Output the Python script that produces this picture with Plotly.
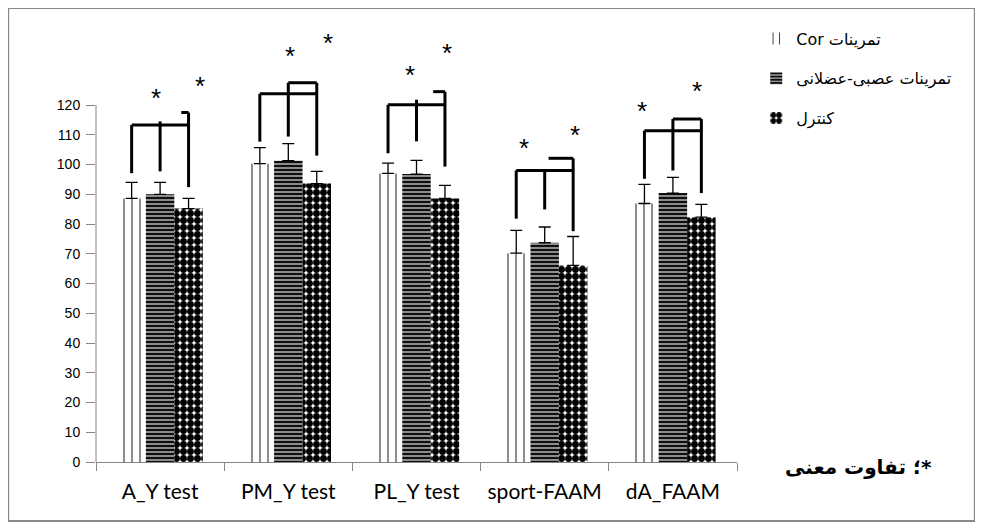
import plotly.graph_objects as go

categories = ["A_Y test", "PM_Y test", "PL_Y test", "sport-FAAM", "dA_FAAM"]
series_names = ["\u202Bتمرینات Cor\u202C", "تمرینات عصبی-عضلانی", "کنترل"]

cor_mean = [88.6, 100.3, 97.0, 70.2, 86.9]
cor_sd = [5.4, 5.4, 3.5, 7.7, 6.4]
neuro_mean = [90.0, 101.3, 96.8, 73.7, 90.4]
neuro_sd = [4.0, 5.7, 4.6, 5.3, 5.3]
ctrl_mean = [85.2, 93.6, 88.6, 66.1, 82.3]
ctrl_sd = [3.4, 4.1, 4.4, 9.7, 4.3]

# significance brackets (values in y units)
br_low = [113.3, 123.8, 120.1, 98.0, 111.4]
br_high = [117.5, 127.5, 124.5, 102.1, 115.3]
br_left_end = [97.1, 107.7, 103.8, 81.8, 95.2]
br_mid_top = [114.5, 127.5, 121.8, 98.0, 115.3]
br_mid_end = [97.7, 109.4, 107.8, 84.9, 98.0]
br_right_end = [92.4, 103.0, 99.3, 77.6, 90.4]
br_stub_from = [0.165, 0.0, 0.13, 0.03, 0.0]

star1_y = [123.4, 137.5, 131.1, 106.6, 119.0]
star1_dx = [-0.03, 0.01, -0.05, -0.16, -0.24]
star2_y = [127.4, 141.8, 138.5, 110.9, 125.7]
star2_dx = [0.31, 0.31, 0.24, 0.24, 0.19]

y_ticks = list(range(0, 121, 10))
note_text = "<b>\u202B*؛ تفاوت معنی\u202C</b>"

BW = 0.222  # bar offset in category units

fig = go.Figure()
styles = [
    dict(color="white", pattern=dict(shape="|", size=8, solidity=0.14, fgcolor="black", fgopacity=0.8, fillmode="overlay")),
    dict(color="#8c8c8c", pattern=dict(shape="-", size=4, solidity=0.45, fgcolor="black", fgopacity=1, fillmode="overlay")),
    dict(color="white", pattern=dict(shape=".", size=7, solidity=0.75, fgcolor="black", fgopacity=1, fillmode="overlay")),
]
for i, (name, means, sds) in enumerate(zip(series_names, [cor_mean, neuro_mean, ctrl_mean], [cor_sd, neuro_sd, ctrl_sd])):
    fig.add_trace(go.Bar(
        x=categories, y=means, name=name, legendgroup=str(i),
        marker=dict(line=dict(width=0), **styles[i]),
        error_y=dict(type="data", array=sds, arrayminus=[0] * len(sds), symmetric=False,
                     color="black", thickness=1.3, width=6),
    ))

shapes = []
line = dict(color="black", width=3)
for c in range(len(categories)):
    xl, xm, xr = c - BW, c, c + BW
    shapes.append(dict(type="line", xref="x", yref="y", x0=xl, x1=xl, y0=br_left_end[c], y1=br_low[c], line=line))
    shapes.append(dict(type="line", xref="x", yref="y", x0=xl, x1=xr, y0=br_low[c], y1=br_low[c], line=line))
    shapes.append(dict(type="line", xref="x", yref="y", x0=xm, x1=xm, y0=br_mid_end[c], y1=br_mid_top[c], line=line))
    shapes.append(dict(type="line", xref="x", yref="y", x0=xr, x1=xr, y0=br_right_end[c], y1=br_high[c], line=line))
    shapes.append(dict(type="line", xref="x", yref="y", x0=c + br_stub_from[c], x1=xr, y0=br_high[c], y1=br_high[c], line=line))

# y axis line up to 120 only
shapes.append(dict(type="line", xref="paper", yref="y", x0=0, x1=0, y0=0, y1=120, line=dict(color="#868686", width=1)))
# outer border
shapes.append(dict(type="rect", xref="paper", yref="paper", x0=-0.137, x1=1.371, y0=-0.136, y1=1.046,
                   line=dict(color="#888888", width=2), fillcolor="rgba(0,0,0,0)", layer="below"))

annotations = []
for c in range(len(categories)):
    for dx, yy in ((star1_dx[c], star1_y[c]), (star2_dx[c], star2_y[c])):
        annotations.append(dict(x=c + dx, y=yy, xref="x", yref="y", text="*", showarrow=False,
                                font=dict(family="Liberation Sans", size=26, color="black"),
                                yanchor="middle", yshift=-3))
annotations.append(dict(x=1.189, y=-0.012, xref="paper", yref="paper", text=note_text, showarrow=False,
                        font=dict(family="DejaVu Sans", size=20, color="black"), xanchor="center", yanchor="middle"))

fig.update_layout(
    width=975, height=522,
    margin=dict(l=88, r=246, t=20, b=68),
    paper_bgcolor="white", plot_bgcolor="white",
    barmode="group", bargap=0.334, bargroupgap=0,
    shapes=shapes, annotations=annotations,
    showlegend=True,
    legend=dict(x=1.03, y=1.015, xanchor="left", yanchor="top", traceorder="grouped", tracegroupgap=16,
                font=dict(family="DejaVu Sans", size=16, color="black"), bgcolor="rgba(0,0,0,0)"),
    font=dict(family="Liberation Sans", color="black"),
)
fig.update_xaxes(type="category", range=[-0.5, 4.5], showline=True, linecolor="#868686", linewidth=1,
                 ticks="outside", tickson="boundaries", ticklen=8, tickcolor="#868686", tickangle=0,
                 tickfont=dict(family="Lato", size=21, color="black"), ticklabelstandoff=11,
                 automargin=False, showgrid=False, zeroline=False)
fig.update_yaxes(range=[0, 145.9], tickvals=y_ticks, ticks="outside", ticklen=9, tickcolor="#868686",
                 tickfont=dict(family="Liberation Sans", size=14, color="black"), ticklabelstandoff=3,
                 automargin=False, showgrid=False, zeroline=False, showline=False)

fig.write_html("out.html")
